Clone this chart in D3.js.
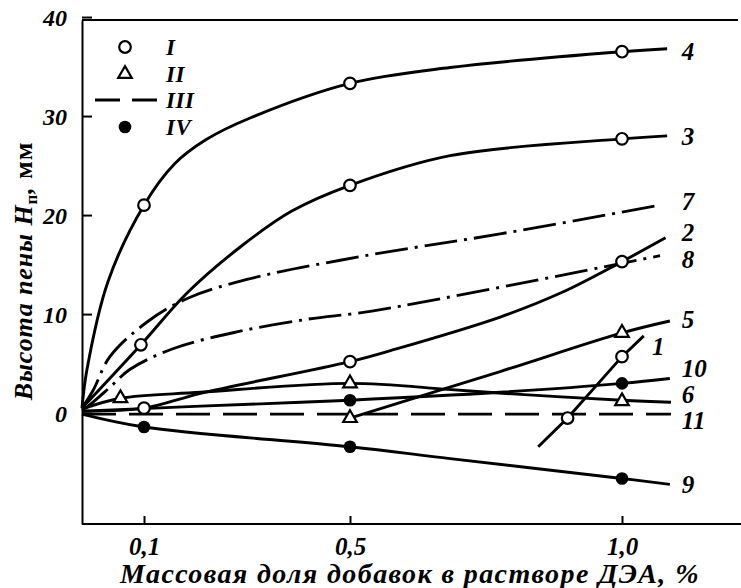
<!DOCTYPE html>
<html>
<head>
<meta charset="utf-8">
<script src="https://cdn.jsdelivr.net/npm/d3@7"></script>
<style>
  body { margin: 0; background: #fff; }
  svg text { font-family: "Liberation Serif", "Times New Roman", serif; font-weight: bold; font-style: italic; fill: #000; }
</style>
</head>
<body>
<svg id="chart" width="741" height="588"></svg>
<script>
// x: mass fraction of additive in DEA solution, %; y: foam height, mm
const curve1 = [[0.846, -3.4], [0.9, -0.5], [1.0, 5.7], [1.04, 7.8]]
const curve2 = [[0, 0.2], [0.1, 0.5], [0.21, 2.0], [0.5, 5.2], [0.58, 6.4], [0.776, 9.7], [0.89, 12.2], [1.0, 15.3], [1.08, 17.7]]
const curve3 = [[0, 0.5], [0.095, 6.9], [0.185, 12.2], [0.29, 16.9], [0.387, 20.4], [0.5, 23.0], [0.684, 26.0], [1.0, 27.7], [1.083, 28.0]]
const curve4 = [[0, 0.5], [0.008, 4.4], [0.042, 13.3], [0.1, 21.0], [0.16, 25.2], [0.22, 27.6], [0.306, 29.8], [0.5, 33.3], [0.684, 34.9], [1.0, 36.5], [1.083, 36.8]]
const curve5 = [[0.5, -0.5], [0.776, 4.2], [1.0, 8.1], [1.088, 9.3]]
const curve6 = [[0, 0.4], [0.062, 1.5], [0.21, 2.1], [0.5, 3.0], [0.68, 2.4], [0.78, 2.0], [1.0, 1.3], [1.09, 1.1]]
const curve7 = [[0, 0.5], [0.018, 2.3], [0.045, 5.7], [0.106, 9.2], [0.185, 11.6], [0.3, 13.5], [0.518, 15.8], [0.776, 18.1], [1.07, 21.0]]
const curve8 = [[0, 0.3], [0.008, 0.6], [0.045, 2.6], [0.077, 4.4], [0.156, 6.5], [0.28, 8.2], [0.42, 9.5], [0.54, 10.3], [1.07, 15.9]]
const curve9 = [[0, -0.1], [0.1, -1.4], [0.5, -3.4], [0.684, -4.6], [1.0, -6.6], [1.088, -7.2]]
const curve10 = [[0, 0.2], [0.21, 0.7], [0.5, 1.3], [0.776, 2.1], [1.0, 3.0], [1.088, 3.5]]
const curve11 = [[0, -0.1], [1.09, -0.1]]

// measured points, by symbol
const openPts = [[0.1, 21.0], [0.5, 33.3], [1.0, 36.5], [0.095, 6.9], [0.5, 23.0], [1.0, 27.7],
  [0.1, 0.5], [0.5, 5.2], [1.0, 15.3], [0.9, -0.5], [1.0, 5.7]]
const trianglePts = [[0.062, 1.5], [0.5, 3.0], [1.0, 1.2], [0.5, -0.5], [1.0, 8.1]]
const filledPts = [[0.1, -1.4], [0.5, -3.4], [1.0, -6.6], [0.5, 1.3], [1.0, 3.0]]

const curveNames = ['4', '3', '7', '2', '8', '5', '1', '10', '6', '11', '9']
const labelX = [1.11, 1.11, 1.11, 1.11, 1.11, 1.11, 1.055, 1.11, 1.11, 1.11, 1.11]
const labelY = [36.5, 28.0, 21.4, 18.3, 15.5, 9.5, 6.8, 4.5, 1.9, -0.7, -7.2]

const xTicks = [0.1, 0.5, 1.0]
const yTicks = [0, 10, 20, 30, 40]
const legendNames = ['I', 'II', 'III', 'IV']

const xTitle = 'Массовая доля добавок в растворе ДЭА, %'

const curves = { '1': curve1, '2': curve2, '3': curve3, '4': curve4, '5': curve5, '6': curve6,
  '7': curve7, '8': curve8, '9': curve9, '10': curve10, '11': curve11 }
const dashOf = { '7': '33,7,3,7', '8': '33,7,3,7', '11': '34,13' }

const svg = d3.select('#chart')

// the original axis is hand drawn and slightly uneven, so x is piecewise linear
const x = d3.scaleLinear().domain([0, 0.1, 0.5, 1.0]).range([82, 144, 350, 622])
const y = d3.scaleLinear().domain([-11.2, 39.7]).range([524, 20])

const fmt = d => d3.format('.1f')(d).replace('.', ',')

// frame
svg.append('line').attr('x1', 82).attr('x2', 738).attr('y1', 20).attr('y2', 20)
  .attr('stroke', '#000').attr('stroke-width', 2)

const xAxis = svg.append('g').attr('transform', 'translate(0,524)')
  .call(d3.axisBottom(x).tickValues(xTicks).tickFormat(fmt).tickSizeInner(-8).tickSizeOuter(0).tickPadding(13))
xAxis.select('.domain').attr('d', 'M82,0H741').attr('stroke-width', 2)
xAxis.selectAll('.tick line').attr('stroke-width', 2)
xAxis.selectAll('text').attr('font-size', 25).attr('font-family', null)

const yAxis = svg.append('g').attr('transform', 'translate(82,0)')
  .call(d3.axisLeft(y).tickValues(yTicks).tickFormat(d3.format('d')).tickSizeInner(-10).tickSizeOuter(0).tickPadding(15))
yAxis.select('.domain').attr('stroke-width', 2)
yAxis.selectAll('.tick line').attr('stroke-width', 2)
yAxis.selectAll('text').attr('font-size', 24).attr('font-family', null).attr('dy', '0.36em')

// curves
const line = d3.line().x(d => x(d[0])).y(d => y(d[1])).curve(d3.curveCatmullRom.alpha(0.5))
const straight = d3.line().x(d => x(d[0])).y(d => y(d[1]))

Object.keys(curves).forEach(k => {
  svg.append('path')
    .attr('d', (k === '1' || k === '11' ? straight : line)(curves[k]))
    .attr('fill', 'none')
    .attr('stroke', '#000')
    .attr('stroke-width', 2.9)
    .attr('stroke-dasharray', dashOf[k] || null)
})

// markers
svg.selectAll('circle.open').data(openPts).enter().append('circle')
  .attr('class', 'open')
  .attr('cx', d => x(d[0])).attr('cy', d => y(d[1])).attr('r', 5.8)
  .attr('fill', '#fff').attr('stroke', '#000').attr('stroke-width', 2.2)

svg.selectAll('path.tri').data(trianglePts).enter().append('path')
  .attr('class', 'tri')
  .attr('d', d3.symbol(d3.symbolTriangle, 80))
  .attr('transform', d => `translate(${x(d[0])},${y(d[1])})`)
  .attr('fill', '#fff').attr('stroke', '#000').attr('stroke-width', 2.2)

svg.selectAll('circle.filled').data(filledPts).enter().append('circle')
  .attr('class', 'filled')
  .attr('cx', d => x(d[0])).attr('cy', d => y(d[1])).attr('r', 6.3)
  .attr('fill', '#000')

// curve numbers
svg.selectAll('text.num').data(curveNames).enter().append('text')
  .attr('class', 'num')
  .attr('x', (d, i) => x(labelX[i]))
  .attr('y', (d, i) => y(labelY[i]))
  .attr('dy', '0.35em')
  .attr('font-size', 25)
  .text(d => d)

// legend
const rowY = [47, 74, 100, 127]
const legend = svg.append('g')
legend.selectAll('text').data(legendNames).enter().append('text')
  .attr('x', 166).attr('y', (d, i) => rowY[i]).attr('dy', '0.35em')
  .attr('font-size', 23)
  .attr('letter-spacing', 0.6)
  .text(d => d)
legend.append('circle').attr('cx', 125).attr('cy', rowY[0]).attr('r', 5.8)
  .attr('fill', '#fff').attr('stroke', '#000').attr('stroke-width', 2.2)
legend.append('path').attr('d', d3.symbol(d3.symbolTriangle, 80))
  .attr('transform', `translate(125,${rowY[1]})`)
  .attr('fill', '#fff').attr('stroke', '#000').attr('stroke-width', 2.2)
legend.append('line').attr('x1', 95).attr('x2', 157).attr('y1', rowY[2]).attr('y2', rowY[2])
  .attr('stroke', '#000').attr('stroke-width', 3.2).attr('stroke-dasharray', '25,12')
legend.append('circle').attr('cx', 125).attr('cy', rowY[3]).attr('r', 6.3).attr('fill', '#000')

// axis titles
svg.append('text')
  .attr('x', 410).attr('y', 583)
  .attr('text-anchor', 'middle')
  .attr('font-size', 28)
  .attr('letter-spacing', 1.4)
  .text(xTitle)

const yTitle = svg.append('text')
  .attr('transform', 'translate(32,271) rotate(-90)')
  .attr('text-anchor', 'middle')
  .attr('font-size', 26)
  .attr('letter-spacing', 0.9)
yTitle.append('tspan').text('Высота пены ')
yTitle.append('tspan').text('H')
yTitle.append('tspan').attr('font-size', 17).attr('font-style', 'normal').attr('dy', 5).text('п')
yTitle.append('tspan').attr('dy', -5).text(',')
yTitle.append('tspan').attr('font-style', 'normal').text(' мм')
</script>
</body>
</html>
